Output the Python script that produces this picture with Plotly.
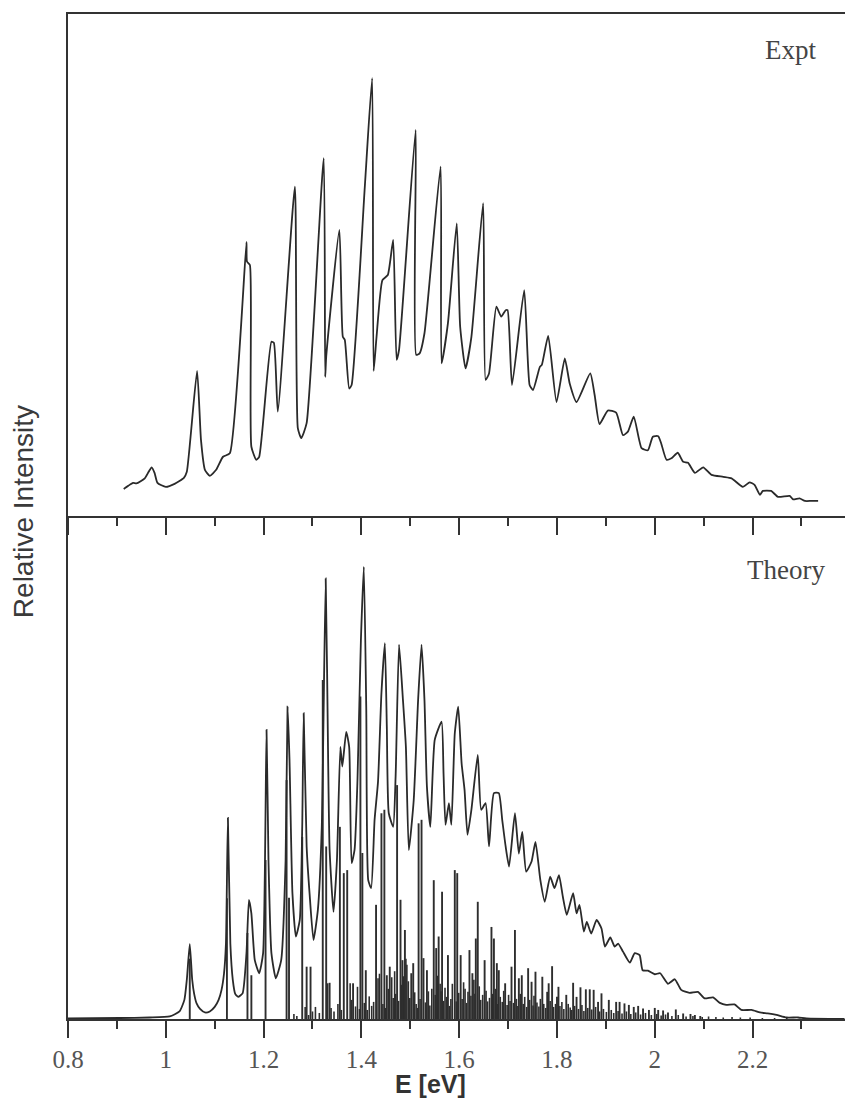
import plotly.graph_objects as go

# ---------------- data ----------------
# Experimental spectrum (top panel)
expt_E = [0.914, 0.923, 0.933, 0.940, 0.957, 0.965, 0.971, 0.977, 0.983, 1.000,
          1.018, 1.037, 1.043, 1.064, 1.072, 1.080, 1.090, 1.103, 1.117, 1.131,
          1.165, 1.166, 1.172, 1.175, 1.185, 1.191, 1.216, 1.221, 1.229, 1.264,
          1.270, 1.277, 1.288, 1.323, 1.326, 1.328, 1.355, 1.362, 1.366, 1.375,
          1.380, 1.407, 1.422, 1.425, 1.431, 1.443, 1.454, 1.465, 1.472, 1.477,
          1.511, 1.512, 1.519, 1.529, 1.562, 1.564, 1.577, 1.595, 1.602, 1.613,
          1.625, 1.649, 1.654, 1.661, 1.676, 1.686, 1.695, 1.699, 1.708, 1.733,
          1.744, 1.751, 1.765, 1.769, 1.782, 1.799, 1.816, 1.826, 1.840, 1.868,
          1.877, 1.887, 1.904, 1.921, 1.935, 1.945, 1.957, 1.973, 1.986, 1.996,
          2.007, 2.013, 2.024, 2.034, 2.047, 2.058, 2.068, 2.082, 2.099, 2.116,
          2.140, 2.157, 2.180, 2.194, 2.204, 2.215, 2.221, 2.238, 2.252, 2.276,
          2.283, 2.296, 2.307, 2.320, 2.334]
expt_I = [5.4, 6.0, 6.6, 6.5, 7.5, 8.8, 9.7, 8.6, 6.6, 5.8,
          6.4, 7.6, 8.8, 28.9, 15.1, 9.2, 8.0, 9.2, 11.8, 12.5,
          54.6, 50.7, 50.0, 13.8, 11.2, 11.8, 34.7, 34.5, 20.8, 65.6,
          17.5, 15.5, 18.5, 71.3, 27.7, 31.7, 57.0, 35.7, 35.1, 25.4,
          26.1, 65.6, 87.2, 28.9, 35.7, 47.0, 48.0, 55.0, 31.1, 33.1,
          76.9, 32.1, 32.4, 36.4, 69.6, 30.4, 38.4, 58.3, 37.7, 29.4,
          35.7, 62.3, 27.1, 28.4, 41.7, 39.7, 41.0, 41.0, 26.1, 45.0,
          26.1, 25.1, 29.7, 30.1, 35.9, 22.7, 31.4, 26.4, 22.7, 28.4,
          24.1, 18.3, 21.0, 20.6, 16.1, 16.8, 19.8, 13.5, 13.1, 15.8,
          15.9, 14.5, 11.2, 11.5, 12.6, 10.8, 10.6, 8.6, 9.7, 8.2,
          7.8, 7.5, 5.8, 6.7, 6.2, 4.2, 5.0, 5.0, 3.8, 4.0,
          3.3, 3.5, 3.0, 3.0, 3.0]

# Theory: broadened spectrum (bottom panel)
theo_E = [0.800, 0.906, 0.967, 1.008, 1.028, 1.038, 1.043, 1.049, 1.054, 1.058,
          1.063, 1.070, 1.080, 1.090, 1.100, 1.108, 1.114, 1.119, 1.123, 1.127,
          1.132, 1.137, 1.142, 1.148, 1.157, 1.165, 1.170, 1.175, 1.182, 1.191,
          1.199, 1.206, 1.210, 1.216, 1.225, 1.236, 1.245, 1.249, 1.253, 1.259,
          1.266, 1.274, 1.279, 1.282, 1.288, 1.294, 1.302, 1.311, 1.319, 1.327,
          1.332, 1.335, 1.343, 1.350, 1.357, 1.361, 1.369, 1.375, 1.380, 1.386,
          1.392, 1.399, 1.405, 1.410, 1.414, 1.420, 1.427, 1.434, 1.441, 1.448,
          1.452, 1.456, 1.465, 1.470, 1.477, 1.485, 1.491, 1.497, 1.507, 1.516,
          1.523, 1.529, 1.534, 1.541, 1.550, 1.564, 1.568, 1.572, 1.579, 1.584,
          1.591, 1.598, 1.605, 1.611, 1.617, 1.625, 1.638, 1.645, 1.654, 1.661,
          1.671, 1.681, 1.688, 1.695, 1.702, 1.714, 1.722, 1.729, 1.737, 1.748,
          1.756, 1.766, 1.775, 1.786, 1.795, 1.804, 1.812, 1.820, 1.833, 1.840,
          1.846, 1.855, 1.861, 1.870, 1.881, 1.891, 1.898, 1.909, 1.918, 1.925,
          1.935, 1.949, 1.959, 1.969, 1.975, 1.986, 2.000, 2.011, 2.027, 2.041,
          2.054, 2.071, 2.088, 2.102, 2.119, 2.133, 2.146, 2.163, 2.177, 2.198,
          2.215, 2.231, 2.249, 2.269, 2.293, 2.310, 2.388]
theo_I = [0.1, 0.2, 0.3, 0.5, 1.5, 3.8, 7.8, 14.9, 7.8, 5.0,
          3.1, 2.0, 1.3, 1.5, 2.4, 3.8, 5.8, 9.0, 15.0, 40.0,
          15.0, 7.8, 5.0, 4.4, 5.1, 13.1, 23.7, 21.0, 11.7, 9.1,
          13.1, 57.5, 31.6, 13.1, 8.1, 11.7, 31.6, 62.1, 51.5, 25.0,
          16.4, 19.7, 38.2, 60.8, 34.3, 25.0, 15.7, 21.7, 38.2, 87.6,
          51.5, 33.6, 21.3, 31.6, 54.1, 50.2, 57.1, 54.1, 31.0, 33.6,
          47.5, 75.3, 89.9, 61.4, 27.6, 26.0, 39.6, 47.2, 64.8, 74.7,
          58.1, 40.9, 38.2, 48.2, 74.4, 63.4, 54.1, 33.6, 43.5, 63.4,
          74.4, 63.4, 46.2, 38.2, 55.5, 59.1, 48.8, 38.6, 42.9, 38.6,
          56.8, 62.1, 50.8, 45.5, 36.6, 41.6, 52.5, 41.6, 42.9, 34.3,
          44.9, 44.9, 39.6, 34.3, 30.3, 40.9, 32.9, 37.2, 29.3, 31.3,
          35.2, 27.6, 23.3, 28.3, 26.0, 28.6, 24.3, 20.7, 25.0, 21.0,
          22.7, 17.4, 19.3, 17.0, 19.7, 18.0, 14.4, 16.2, 14.4, 15.0,
          13.4, 11.2, 13.1, 12.7, 9.7, 9.6, 8.9, 9.1, 7.0, 7.9,
          5.8, 5.2, 5.4, 4.1, 4.3, 3.2, 2.8, 2.9, 1.8, 1.8,
          1.3, 1.1, 0.8, 0.3, 0.3, 0.1, 0.0]

# Theory: stick spectrum, prominent lines
stick_E = [1.049, 1.125, 1.167, 1.175, 1.204, 1.247, 1.252, 1.279, 1.288, 1.296,
           1.321, 1.328, 1.335, 1.356, 1.364, 1.371, 1.383, 1.398, 1.402, 1.409,
           1.430, 1.441, 1.447, 1.452, 1.458, 1.473, 1.480, 1.484, 1.489, 1.502,
           1.506, 1.517, 1.523, 1.527, 1.534, 1.548, 1.553, 1.558, 1.565, 1.577,
           1.591, 1.596, 1.603, 1.621, 1.627, 1.634, 1.638, 1.652, 1.666, 1.671,
           1.677, 1.681, 1.694, 1.707, 1.714, 1.722, 1.728, 1.741, 1.748, 1.756,
           1.770, 1.780, 1.783, 1.790, 1.800, 1.803, 1.819, 1.833, 1.840, 1.848,
           1.859, 1.867, 1.875, 1.884, 1.891, 1.906, 1.921, 1.928, 1.938, 1.947,
           1.957, 1.966, 1.976, 1.988, 2.000, 2.007, 2.017, 2.027, 2.043, 2.058,
           2.073, 2.082, 2.093]
stick_I = [12.0, 24.0, 17.1, 8.7, 31.6, 47.5, 24.1, 36.2, 10.4, 10.4,
           67.4, 34.3, 7.2, 38.2, 29.0, 29.6, 7.1, 64.1, 33.0, 9.7,
           22.7, 40.9, 41.6, 8.7, 10.4, 46.5, 23.7, 11.7, 17.7, 9.1,
           11.1, 38.9, 39.6, 12.1, 9.7, 27.6, 14.1, 16.4, 25.3, 12.7,
           29.6, 29.0, 12.7, 13.7, 9.1, 16.0, 23.3, 11.7, 18.3, 16.0,
           11.1, 9.7, 7.1, 10.4, 17.7, 8.1, 8.7, 10.1, 7.4, 9.4,
           8.4, 5.4, 7.1, 10.5, 4.4, 6.4, 4.8, 7.2, 4.4, 6.3,
           5.9, 5.9, 5.8, 3.4, 5.1, 3.8, 3.4, 3.4, 3.1, 2.8,
           2.4, 2.6, 2.1, 1.8, 2.2, 1.8, 1.7, 1.3, 1.9, 1.1,
           1.0, 0.8, 0.6]

# Theory: dense weak lines
weak_E = [1.262, 1.268, 1.285, 1.292, 1.300, 1.306, 1.314, 1.331, 1.338, 1.344,
          1.352, 1.359, 1.377, 1.380, 1.388, 1.392, 1.396, 1.406, 1.412, 1.416,
          1.421, 1.425, 1.434, 1.437, 1.444, 1.449, 1.455, 1.462, 1.465, 1.468,
          1.470, 1.476, 1.482, 1.486, 1.491, 1.493, 1.496, 1.499, 1.509, 1.512,
          1.515, 1.520, 1.531, 1.537, 1.540, 1.544, 1.551, 1.556, 1.561, 1.563,
          1.568, 1.571, 1.574, 1.580, 1.583, 1.586, 1.594, 1.599, 1.606, 1.609,
          1.612, 1.615, 1.618, 1.624, 1.630, 1.632, 1.641, 1.644, 1.648, 1.655,
          1.658, 1.662, 1.668, 1.674, 1.679, 1.684, 1.688, 1.691, 1.698, 1.701,
          1.704, 1.711, 1.717, 1.720, 1.725, 1.731, 1.734, 1.738, 1.744, 1.751,
          1.753, 1.759, 1.763, 1.766, 1.773, 1.777, 1.786, 1.793, 1.797, 1.806,
          1.810, 1.814, 1.823, 1.827, 1.830, 1.836, 1.844, 1.851, 1.855, 1.863,
          1.871, 1.879, 1.887, 1.895, 1.901, 1.911, 1.916, 1.925, 1.933, 1.942,
          1.951, 1.961, 1.971, 1.981, 1.993, 2.004, 2.013, 2.022, 2.035, 2.048,
          2.064, 2.078, 2.097, 2.110, 2.125, 2.140, 2.158, 2.175, 2.195, 2.220,
          2.245, 2.270]
weak_I = [1.0, 0.6, 2.4, 0.8, 1.5, 2.4, 1.2, 7.1, 2.2, 1.5,
          3.0, 1.8, 7.1, 3.8, 2.5, 6.4, 2.0, 3.2, 1.8, 4.5,
          2.6, 3.4, 8.1, 9.0, 3.0, 2.2, 6.0, 8.3, 4.2, 9.5,
          5.0, 3.6, 6.8, 8.5, 12.0, 10.8, 7.5, 4.2, 5.3, 3.0,
          2.2, 4.0, 3.3, 5.5, 2.7, 6.0, 4.8, 8.6, 7.0, 5.5,
          3.6, 6.2, 4.4, 2.6, 4.0, 7.0, 3.5, 5.2, 4.0, 7.3,
          6.0, 3.2, 5.4, 4.6, 7.8, 5.0, 6.5, 3.8, 4.8, 5.6,
          3.5, 4.2, 5.0, 6.0, 3.0, 4.4, 3.4, 5.6, 2.8, 4.8,
          3.6, 3.2, 4.0, 2.6, 5.0, 3.0, 4.4, 2.4, 3.8, 2.7,
          4.6, 3.3, 2.5, 4.0, 3.0, 2.2, 3.6, 2.4, 3.0, 2.6,
          3.4, 2.0, 3.0, 2.3, 1.8, 2.6, 2.0, 2.8, 1.6, 2.2,
          1.9, 2.4, 1.5, 2.0, 1.4, 1.8, 1.2, 1.6, 1.1, 1.5,
          1.0, 1.3, 0.9, 1.2, 0.8, 1.0, 0.7, 0.9, 0.6, 0.8,
          0.5, 0.6, 0.4, 0.5, 0.4, 0.3, 0.4, 0.3, 0.3, 0.2,
          0.2, 0.2]

x_tick_vals = [0.8, 1.0, 1.2, 1.4, 1.6, 1.8, 2.0, 2.2]
x_tick_text = ["0.8", "1", "1.2", "1.4", "1.6", "1.8", "2", "2.2"]

# ---------------- figure ----------------
INK = "#2a2a2a"
AX = "#333333"


def stick_xy(es, hs):
    xs, ys = [], []
    for e, h in zip(es, hs):
        xs += [e, e, None]
        ys += [0, h, None]
    return xs, ys


fig = go.Figure()

fig.add_trace(go.Scatter(x=expt_E, y=expt_I, mode="lines",
                         line=dict(color=INK, width=1.8, shape="spline",
                                   smoothing=0.5),
                         xaxis="x2", yaxis="y2", showlegend=False))

wx, wy = stick_xy(weak_E, weak_I)
fig.add_trace(go.Scatter(x=wx, y=wy, mode="lines",
                         line=dict(color="#2e2e2e", width=1.6),
                         xaxis="x", yaxis="y", showlegend=False))
sx, sy = stick_xy(stick_E, stick_I)
fig.add_trace(go.Scatter(x=sx, y=sy, mode="lines",
                         line=dict(color="#2e2e2e", width=1.9),
                         xaxis="x", yaxis="y", showlegend=False))
fig.add_trace(go.Scatter(x=theo_E, y=theo_I, mode="lines",
                         line=dict(color=INK, width=1.8, shape="spline",
                                   smoothing=0.5),
                         xaxis="x", yaxis="y", showlegend=False))

common_x = dict(range=[0.8, 2.389], showgrid=False, zeroline=False,
                showline=True, linecolor=AX, linewidth=2,
                ticks="outside", ticklen=17, tickwidth=2, tickcolor=AX,
                tickvals=x_tick_vals, ticktext=x_tick_text,
                minor=dict(ticks="outside", ticklen=8, tickwidth=2,
                           tickcolor=AX, dtick=0.1, tick0=0.8))

fig.update_layout(
    width=845, height=1101,
    margin=dict(l=68, r=0, t=14, b=82),
    paper_bgcolor="white", plot_bgcolor="white",
    xaxis=dict(**common_x, anchor="y", showticklabels=True,
               tickfont=dict(family="Liberation Serif, Times New Roman, serif",
                             size=25, color="#555555")),
    xaxis2=dict(**common_x, anchor="y2", matches="x", showticklabels=False,
                mirror=True),
    yaxis=dict(domain=[0, 0.5005], range=[0, 100], showgrid=False,
               zeroline=False, showline=True, linecolor=AX, linewidth=2,
               ticks="", showticklabels=False),
    yaxis2=dict(domain=[0.5005, 1], range=[0, 100], showgrid=False,
                zeroline=False, showline=True, linecolor=AX, linewidth=2,
                ticks="", showticklabels=False),
    annotations=[
        dict(text="Expt", x=0.9652, y=0.964, xref="paper", yref="paper",
             xanchor="right", yanchor="middle", showarrow=False,
             font=dict(family="Liberation Serif, Times New Roman, serif",
                       size=27, color="#444444")),
        dict(text="Theory", x=0.9768, y=0.4468, xref="paper", yref="paper",
             xanchor="right", yanchor="middle", showarrow=False,
             font=dict(family="Liberation Serif, Times New Roman, serif",
                       size=27, color="#444444")),
        dict(text="Relative Intensity", x=-0.0564, y=0.5045, xref="paper",
             yref="paper", xanchor="center", yanchor="middle",
             showarrow=False, textangle=-90,
             font=dict(family="Liberation Sans, Arial, sans-serif",
                       size=28, color="#3a3a3a")),
        dict(text="<b>E [eV]</b>", x=0.467, y=-0.0647, xref="paper",
             yref="paper", xanchor="center", yanchor="middle",
             showarrow=False,
             font=dict(family="Liberation Sans, Arial, sans-serif",
                       size=25, color="#333333")),
    ],
)

fig.write_html("out.html")
